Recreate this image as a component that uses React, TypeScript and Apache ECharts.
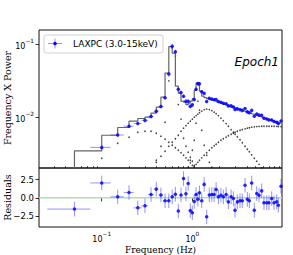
import React, { useEffect, useRef } from 'react';
import * as echarts from 'echarts';

// Frequencies of the bins (Hz)
const freq = [0.05, 0.1, 0.15, 0.2, 0.25, 0.3, 0.35, 0.4, 0.45, 0.5, 0.55, 0.6, 0.65, 0.7, 0.75, 0.8, 0.85, 0.9, 0.95, 1.0, 1.05, 1.1, 1.15, 1.2,
  1.27, 1.35, 1.44, 1.54, 1.64, 1.74, 1.83, 1.94, 2.07, 2.2, 2.36, 2.5, 2.68, 2.84, 2.96, 3.14, 3.36, 3.56, 3.82, 4.05, 4.26, 4.52, 4.83, 5.14, 5.45, 5.83, 6.18, 6.63, 7.02, 7.52, 7.98, 8.54, 8.9, 9.53];
// Half-widths of the frequency bins (Hz)
const binHalfWidth = [0.025, 0.025, 0.025, 0.025, 0.025, 0.025, 0.025, 0.025, 0.025, 0.025, 0.025, 0.025, 0.025, 0.025, 0.025, 0.025, 0.025, 0.025, 0.025, 0.025, 0.025, 0.025, 0.025, 0.025,
  0.035, 0.04, 0.045, 0.05, 0.05, 0.045, 0.05, 0.06, 0.065, 0.07, 0.075, 0.08, 0.085, 0.07, 0.08, 0.1, 0.1, 0.12, 0.12, 0.11, 0.12, 0.15, 0.15, 0.15, 0.17, 0.18, 0.2, 0.2, 0.22, 0.24, 0.25, 0.2, 0.25, 0.3];
// Frequency x Power of the data
const powerData = [0.00127, 0.0039, 0.00576, 0.0076, 0.00828, 0.00913, 0.01035, 0.0122, 0.01415, 0.01856, 0.0392, 0.0942, 0.079, 0.02426, 0.022, 0.01945, 0.01672, 0.01672, 0.01419, 0.01488, 0.01759, 0.02426, 0.02913, 0.02886,
  0.0225, 0.02138, 0.01652, 0.01838, 0.01792, 0.01753, 0.01764, 0.01652, 0.0162, 0.01565, 0.0154, 0.01442, 0.01442, 0.01393, 0.01283, 0.01312, 0.01279, 0.01251, 0.01324, 0.01193, 0.0116, 0.01251, 0.01042, 0.01117, 0.01079, 0.01072, 0.00978, 0.00951, 0.00927, 0.00924, 0.00879, 0.0086, 0.00828, 0.00896];
// Relative errors of the data
const powerRelErr = [0.17, 0.055, 0.055, 0.055, 0.055, 0.055, 0.055, 0.055, 0.055, 0.055, 0.08, 0.08, 0.08, 0.058, 0.058, 0.058, 0.058, 0.058, 0.058, 0.058, 0.058, 0.058, 0.058, 0.058,
  0.048, 0.048, 0.048, 0.042, 0.042, 0.042, 0.042, 0.042, 0.042, 0.042, 0.042, 0.042, 0.042, 0.042, 0.042, 0.042, 0.042, 0.042, 0.042, 0.042, 0.042, 0.042, 0.042, 0.042, 0.042, 0.042, 0.042, 0.042, 0.042, 0.042, 0.042, 0.042, 0.042, 0.042];
// Total model (step)
const modelTotal = [0.00162, 0.00349, 0.00572, 0.0073, 0.0089, 0.00969, 0.0101, 0.01145, 0.01384, 0.01897, 0.0405, 0.0933, 0.076, 0.02685, 0.02152, 0.01672, 0.0162, 0.01497, 0.0157, 0.01672, 0.01809, 0.02366, 0.02951, 0.0277,
  0.02293, 0.01958, 0.01867, 0.01809, 0.01759, 0.0172, 0.01683, 0.01641, 0.01595, 0.01555, 0.01511, 0.01474, 0.01433, 0.01397, 0.01375, 0.01341, 0.01299, 0.01271, 0.01235, 0.01205, 0.01178, 0.01149, 0.01117, 0.01089, 0.01062, 0.01032, 0.01006, 0.00978, 0.00954, 0.00927, 0.00904, 0.00879, 0.00862, 0.00838];
// Residuals
const residuals = [-1.54, 2.05, 0.14, 0.74, -1.37, -1.09, 0.46, 1.2, 0.4, -0.4, -0.4, 0.14, 0.5, -1.8, 0.4, 2.65, 0.55, 1.97, -1.75, -2.05, -0.5, 0.46, -0.2, 0.7,
  -0.4, 1.85, -2.6, 0.4, 0.46, 0.46, 1.15, 0.14, 0.37, 0.14, 0.46, -0.55, 0.14, -0.1, -1.7, -0.55, -0.4, -0.4, 1.73, -0.2, -0.4, 2.05, -1.7, 0.6, 0.37, 0.96, -0.68, -0.68, -0.68, -0.1, -0.68, -0.55, -1.0, 1.6];
// Model components
const compBroadLow = [0.00125, 0.00277, 0.00445, 0.00537, 0.00629, 0.00649, 0.00649, 0.00609, 0.00554, 0.00504, 0.00459, 0.00417, 0.00386, 0.00357, 0.0033, 0.00305, 0.00281, 0.0026, 0.0024, 0.00222, 0.00209, 0.00193, 0.00178, 0.00166,
  null, null, null, null, null, null, null, null, null, null, null, null, null, null, null, null, null, null, null, null, null, null, null, null, null, null, null, null, null, null, null, null, null, null];
const compQpo = [null, null, null, null, null, null, 0.0019, 0.0026, 0.00404, 0.00862, 0.0317, 0.089, 0.0691, 0.015, 0.0095, 0.0052, 0.00404, 0.00335, 0.00286, 0.00252, 0.00222, 0.002, null, null,
  null, null, null, null, null, null, null, null, null, null, null, null, null, null, null, null, null, null, null, null, null, null, null, null, null, null, null, null, null, null, null, null, null, null];
const compHarmonic = [null, null, null, null, null, null, null, null, null, null, null, null, null, null, null, null, null, 0.0021, 0.0026, 0.00357, 0.00489, 0.00836, 0.01672, 0.0126,
  0.0067, 0.00417, 0.00305, 0.00244, 0.00209, null, null, null, null, null, null, null, null, null, null, null, null, null, null, null, null, null, null, null, null, null, null, null, null, null, null, null, null, null];
const compHumpMid = [null, null, null, null, null, null, 0.00202, 0.00244, 0.00295, 0.00346, 0.00404, 0.00459, 0.00512, 0.00572, 0.00649, 0.00714, 0.00772, 0.00836, 0.0089, 0.00948, 0.0101, 0.01059, 0.0111, 0.01164,
  0.0122, 0.01279, 0.01299, 0.01279, 0.01239, 0.01182, 0.01127, 0.01059, 0.00978, 0.00904, 0.00823, 0.0076, 0.00681, 0.00629, 0.00591, 0.00546, 0.00497, 0.00452, 0.00404, 0.00368, 0.0034, 0.00309, 0.00277, 0.00252, 0.00229, 0.00205, 0.0019, null, null, null, null, null, null, null];
const compHumpHigh = [null, null, null, null, null, null, null, null, null, null, null, null, null, null, null, null, null, null, null, null, 0.00215, 0.00229, 0.00244, 0.0026,
  0.00281, 0.00305, 0.0033, 0.00357, 0.00386, 0.00411, 0.00431, 0.00459, 0.00489, 0.00512, 0.00537, 0.00563, 0.00591, 0.00609, 0.00629, 0.00649, 0.0067, 0.00685, 0.007, 0.00714, 0.00725, 0.00737, 0.00744, 0.00751, 0.00755, 0.0076, 0.0076, 0.0076, 0.0076, 0.0076, 0.00758, 0.00755, 0.00753, 0.0075];

const xMajorTicks = [0.1, 1];
const xMinorTicks = [0.03, 0.04, 0.05, 0.06, 0.07, 0.08, 0.09, 0.2, 0.3, 0.4, 0.5, 0.6, 0.7, 0.8, 0.9, 2, 3, 4, 5, 6, 7, 8, 9];
const yMajorTicks = [0.01, 0.1];
const resTicks = [-2.5, 0, 2.5];

const X_MIN = 0.0203, X_MAX = 9.77;
const Y_MIN = 0.00204, Y_MAX = 0.157;
const R_MIN = -4, R_MAX = 4.1;

const SANS = 'DejaVu Sans';
const SERIF = 'DejaVu Serif';
const ERR_COLOR = 'rgba(40,40,255,0.5)';
const PT_COLOR = '#0000ff';

function pow10Label(v: number) {
  const e = Math.round(Math.log10(v));
  const s = e < 0 ? '\u2212' + (-e) : String(e);
  return '{b|10}{s|' + s + '}';
}
const powRich = {
  b: { fontSize: 8, fontFamily: SANS, color: '#000', lineHeight: 12, verticalAlign: 'bottom' },
  s: { fontSize: 5.8, fontFamily: SANS, color: '#000', lineHeight: 12, verticalAlign: 'top', padding: [0, 0, 4, 0] },
};

function errRender(params: any, api: any) {
  const x = api.value(0), y = api.value(1);
  const ylo = api.value(2), yhi = api.value(3), xlo = api.value(4), xhi = api.value(5);
  const c = api.coord([x, y]);
  const l = api.coord([xlo, y]);
  const r = api.coord([xhi, y]);
  const b = api.coord([x, ylo]);
  const t = api.coord([x, yhi]);
  const st = { stroke: ERR_COLOR, lineWidth: 1 };
  return {
    type: 'group',
    children: [
      { type: 'line', shape: { x1: l[0], y1: c[1], x2: r[0], y2: c[1] }, style: st },
      { type: 'line', shape: { x1: c[0], y1: b[1], x2: c[0], y2: t[1] }, style: st },
    ],
  };
}

function compSeries(values: (number | null)[]) {
  const data: number[][] = [];
  values.forEach((v, i) => { if (v !== null) data.push([freq[i], v]); });
  return {
    type: 'scatter', xAxisIndex: 0, yAxisIndex: 0, data, symbol: 'circle', symbolSize: 1.6,
    itemStyle: { color: '#111' }, clip: true, silent: true, z: 1,
  };
}

export default function App() {
  const ref = useRef<HTMLDivElement>(null);
  useEffect(() => {
    if (!ref.current) return;
    const chart = echarts.init(ref.current, undefined, { renderer: 'svg' });

    const mainErr = freq
      .map((f, i) => [f, powerData[i], powerData[i] * (1 - powerRelErr[i]), powerData[i] * (1 + powerRelErr[i]), f - binHalfWidth[i], f + binHalfWidth[i]])
      .filter((d) => d[1] >= Y_MIN);
    const mainPts = mainErr.map((d) => [d[0], d[1]]);
    const resErr = freq.map((f, i) => [f, residuals[i], residuals[i] - 1, residuals[i] + 1, f - binHalfWidth[i], f + binHalfWidth[i]]);
    const resPts = freq.map((f, i) => [f, residuals[i]]);
    const modelLine = freq.map((f, i) => [f, modelTotal[i]]);

    const gridMain = { left: 39, top: 30, width: 243, height: 138, show: true, borderColor: '#111', borderWidth: 1, backgroundColor: 'transparent' };
    const gridRes = { left: 39, top: 168, width: 243, height: 59, show: true, borderColor: '#111', borderWidth: 1, backgroundColor: 'transparent' };

    const option: any = {
      animation: false,
      grid: [gridMain, gridRes],
      xAxis: [
        { gridIndex: 0, type: 'log', logBase: 10, min: X_MIN, max: X_MAX, axisLine: { show: false }, axisTick: { show: false }, axisLabel: { show: false }, splitLine: { show: false } },
        {
          gridIndex: 1, type: 'log', logBase: 10, min: X_MIN, max: X_MAX,
          axisLine: { show: false }, splitLine: { show: false },
          axisTick: { show: true, length: 3.5, customValues: xMajorTicks, lineStyle: { color: '#000', width: 0.8 } },
          axisLabel: { show: true, customValues: xMajorTicks, margin: 4, formatter: pow10Label, rich: powRich },
        },
        {
          gridIndex: 1, type: 'log', logBase: 10, min: X_MIN, max: X_MAX,
          axisLine: { show: false }, splitLine: { show: false }, axisLabel: { show: false },
          axisTick: { show: true, length: 2, customValues: xMinorTicks, lineStyle: { color: '#000', width: 0.6 } },
        },
      ],
      yAxis: [
        {
          gridIndex: 0, type: 'log', logBase: 10, min: Y_MIN, max: Y_MAX,
          axisLine: { show: false }, splitLine: { show: false },
          axisTick: { show: true, length: 3.5, customValues: yMajorTicks, lineStyle: { color: '#000', width: 0.8 } },
          axisLabel: { show: true, customValues: yMajorTicks, margin: 5, formatter: pow10Label, rich: powRich },
        },
        {
          gridIndex: 1, type: 'value', min: R_MIN, max: R_MAX,
          axisLine: { show: false }, splitLine: { show: false },
          axisTick: { show: true, length: 3.5, customValues: resTicks, lineStyle: { color: '#000', width: 0.8 } },
          axisLabel: {
            show: true, customValues: resTicks, margin: 5, fontSize: 8.5, fontFamily: SANS, color: '#000',
            formatter: (v: number) => (v < 0 ? '\u2212' + (-v).toFixed(1) : v.toFixed(1)),
          },
        },
      ],
      series: [
        compSeries(compBroadLow),
        compSeries(compQpo),
        compSeries(compHarmonic),
        compSeries(compHumpMid),
        compSeries(compHumpHigh),
        {
          type: 'line', xAxisIndex: 0, yAxisIndex: 0, data: modelLine, step: 'start', showSymbol: false,
          lineStyle: { color: '#666', width: 1.2 }, clip: true, silent: true, z: 2,
        },
        {
          type: 'custom', xAxisIndex: 0, yAxisIndex: 0, data: mainErr, renderItem: errRender,
          encode: { x: 0, y: 1 }, clip: true, silent: true, z: 3,
        },
        {
          type: 'scatter', xAxisIndex: 0, yAxisIndex: 0, data: mainPts, symbol: 'circle', symbolSize: 3.5,
          itemStyle: { color: PT_COLOR }, clip: true, silent: true, z: 4,
        },
        {
          type: 'line', xAxisIndex: 1, yAxisIndex: 1, data: [[X_MIN, 0], [X_MAX, 0]], showSymbol: false,
          lineStyle: { color: '#b5dcb5', width: 1.5 }, silent: true, z: 1,
        },
        {
          type: 'custom', xAxisIndex: 1, yAxisIndex: 1, data: resErr, renderItem: errRender,
          encode: { x: 0, y: 1 }, clip: true, silent: true, z: 3,
        },
        {
          type: 'scatter', xAxisIndex: 1, yAxisIndex: 1, data: resPts, symbol: 'circle', symbolSize: 3.5,
          itemStyle: { color: PT_COLOR }, clip: true, silent: true, z: 4,
        },
      ],
      graphic: [
        { type: 'rect', shape: { x: 44, y: 35, width: 119, height: 18, r: 2 }, style: { fill: 'rgba(255,255,255,0.85)', stroke: '#d0d0d0', lineWidth: 1 }, z: 10 },
        { type: 'line', shape: { x1: 48, y1: 43.5, x2: 62, y2: 43.5 }, style: { stroke: ERR_COLOR, lineWidth: 1 }, z: 11 },
        { type: 'line', shape: { x1: 55, y1: 38.5, x2: 55, y2: 48.5 }, style: { stroke: ERR_COLOR, lineWidth: 1 }, z: 11 },
        { type: 'circle', shape: { cx: 55, cy: 43.5, r: 1.75 }, style: { fill: PT_COLOR }, z: 11 },
        { type: 'text', x: 73, y: 44, style: { text: 'LAXPC (3.0-15keV)', font: '9px "DejaVu Sans"', fill: '#000', verticalAlign: 'middle', align: 'left' }, z: 11 },
        { type: 'text', x: 279, y: 62, style: { text: 'Epoch1', font: 'italic 12px "DejaVu Sans"', fill: '#000', verticalAlign: 'middle', align: 'right' }, z: 11 },
        { type: 'text', x: 160.5, y: 250, style: { text: 'Frequency (Hz)', font: '9px "DejaVu Serif"', fill: '#000', verticalAlign: 'middle', align: 'center' } },
        { type: 'text', x: 7, y: 98, rotation: Math.PI / 2, style: { text: 'Frequency X Power', font: '9.5px "DejaVu Serif"', fill: '#000', verticalAlign: 'middle', align: 'center' } },
        { type: 'text', x: 7, y: 197.5, rotation: Math.PI / 2, style: { text: 'Residuals', font: '9.5px "DejaVu Serif"', fill: '#000', verticalAlign: 'middle', align: 'center' } },
      ],
    };
    chart.setOption(option);
    return () => chart.dispose();
  }, []);
  return <div ref={ref} style={{ position: 'fixed', left: 0, top: 0, width: 293, height: 255, background: '#fff' }} />;
}
